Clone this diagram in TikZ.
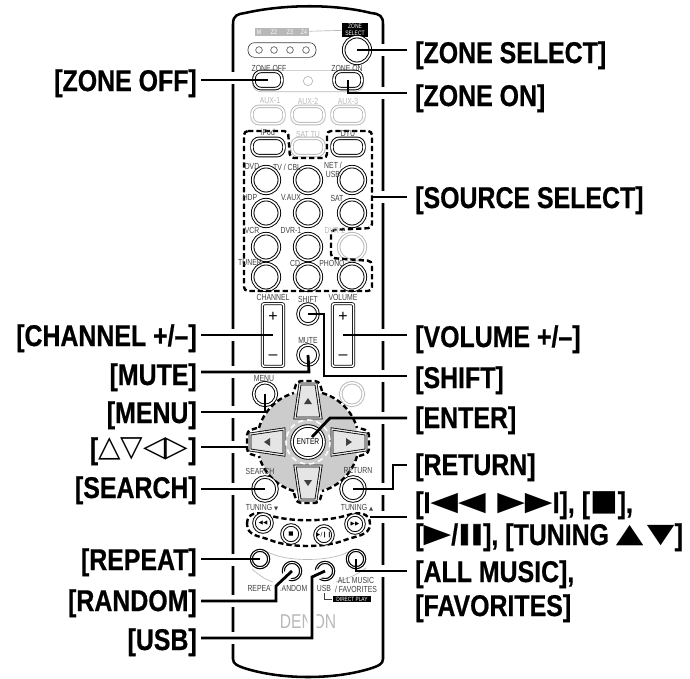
\documentclass[tikz,border=0pt]{standalone}
\usepackage{fontspec}
\usepackage{xcolor}
\setmainfont{Liberation Sans}
\newfontfamily\labelfont[FakeStretch=0.83,FakeBold=0.6]{Liberation Sans Bold}
\newfontfamily\barfont[FakeStretch=1.5,FakeBold=2.5]{Liberation Sans Bold}
\newfontfamily\capfont[FakeStretch=0.78]{Liberation Sans}
\newfontfamily\symfont{DejaVu Sans}
\newfontfamily\symwide[FakeStretch=1.35]{DejaVu Sans}
\newcommand{\lblsym}[1]{\raisebox{2pt}{\symwide\fontsize{20}{20}\selectfont #1}}
\newcommand{\lblopen}[1]{\raisebox{2pt}{\symfont\fontsize{22}{22}\selectfont #1}}
\definecolor{capgrey}{rgb}{0.25,0.25,0.25}
\definecolor{offgrey}{rgb}{0.72,0.72,0.72}
\definecolor{padgrey}{rgb}{0.80,0.80,0.80}
\definecolor{keygrey}{rgb}{0.90,0.90,0.90}
\tikzset{
  body/.style={line width=1.9pt},
  leader/.style={line width=2.1pt,line join=miter},
  halo/.style={white,line width=7pt},
  lblleft/.style={anchor=base east,inner xsep=3pt,inner ysep=0pt,font=\labelfont\fontsize{22.5}{24}\selectfont},
  lblright/.style={anchor=base west,inner xsep=6pt,inner ysep=0pt,font=\labelfont\fontsize{22.5}{24}\selectfont},
  smallcap/.style={inner sep=0pt,text=capgrey,font=\capfont\fontsize{6.6}{7}\selectfont,align=center},
  offcap/.style={smallcap,text=offgrey},
  ringbtn/.style={circle,draw=#1,fill=white,double=white,double distance=1.2pt,line width=0.7pt,inner sep=0pt},
  ringbtn/.default=black,
  pillbtn/.style={rectangle,rounded corners=5.5pt,draw=#1,fill=white,double=white,double distance=1.2pt,line width=0.7pt,inner sep=0pt,minimum width=24pt,minimum height=13pt},
  pillbtn/.default=black,
  rocker/.style={rectangle,rounded corners=1.5pt,draw,fill=white,double=white,double distance=1.2pt,line width=0.55pt,inner sep=0pt,minimum width=16pt,minimum height=47pt},
  dashbox/.style={line width=1.8pt,dash pattern=on 4pt off 2.2pt,rounded corners=3pt},
  thingrey/.style={draw=offgrey,line width=0.5pt},
  padkey/.style={draw,line width=0.6pt,fill=keygrey,double=keygrey,double distance=1pt}
}
\begin{document}
\begin{tikzpicture}[x=0.75pt,y=0.75pt,yscale=-1,xscale=1]
\useasboundingbox (0,0) rectangle (690,679);

%Remote body
\draw[body] (233,659) -- (233,24) .. controls (233,15) and (238,14) .. (245,13) .. controls (285,4) and (335,4) .. (371,13) .. controls (380,14) and (383,16) .. (383,24) -- (383,659) .. controls (383,664) and (378,666) .. (372,668) .. controls (335,680) and (281,680) .. (244,668) .. controls (238,666) and (233,664) .. (233,659);
%gaps in the edges where leaders pass
\foreach \y in {78,335,372,412,447,489,560,601,638}
  \fill[white] (228,\y-6) rectangle (238,\y+6);
\foreach \y in {50,93,197,335,376,418,489,517,571}
  \fill[white] (378,\y-6) rectangle (388,\y+6);

%Zone indicator bar
\node[fill=offgrey,minimum width=40.5pt,minimum height=6.5pt,inner sep=0pt] (zonebar) at (282,32) {};
\foreach \x/\t [count=\i] in {259/M,274/Z2,290/Z3,304/Z4}
  \node[smallcap,text=white,font=\capfont\fontsize{5}{5}\selectfont] (barcap\i) at (\x,32) {\t};
\node[fill=black,text=white,inner sep=0pt,minimum width=19pt,minimum height=10pt,align=center,font=\capfont\fontsize{4.8}{5}\selectfont] (zoneselcap) at (355,30) {ZONE\\SELECT};
\draw[thingrey] (zonebar) -- (zoneselcap);
\node[rectangle,rounded corners=5pt,thingrey,draw=capgrey,minimum width=51pt,minimum height=11pt,inner sep=0pt] (ledbox) at (282,50) {};
\foreach \x [count=\i] in {259,274,290,306}
  \node[circle,draw=capgrey,line width=0.4pt,minimum size=5pt,inner sep=0pt] (led\i) at (\x,50) {};
\node[ringbtn,minimum size=20pt] (btnzonesel) at (357,50) {};

%Zone row
\node[rectangle,rounded corners=6pt,thingrey,minimum width=83pt,minimum height=16pt,inner sep=0pt] (zonerow) at (308,81) {};
\node[pillbtn,minimum width=21pt] (btnzoneoff) at (268,80) {};
\node[pillbtn,minimum width=21pt] (btnzoneon) at (348,80) {};
\node[circle,thingrey,minimum size=7pt,inner sep=0pt] (zoneled) at (308,81) {};

%Pill buttons
\foreach \x/\n in {268/auxa,308/auxb,348/auxc}
  \node[pillbtn=offgrey] (btn\n) at (\x,115) {};
\node[pillbtn] (btnipod) at (268,147) {};
\node[pillbtn=offgrey] (btnsattu) at (308,147) {};
\node[pillbtn] (btndtu) at (348,147) {};

%Round source buttons
\foreach \n/\x/\y in {dvd/266/180,tv/308/180,net/352/180,hdp/266/213,vaux/308/213,sat/352/213,vcr/266/247,dvrb/308/247,tuner/266/277,cd/308/277,phono/352/277}
  \node[ringbtn,minimum size=20pt] (btn\n) at (\x,\y) {};
\node[ringbtn=offgrey,minimum size=20pt] (btndvrc) at (352,247) {};

%Dashed source group
\draw[dashbox] (244,131) -- (288,131) -- (290,158) -- (327,158) -- (327,131) -- (372,131) -- (372,228) -- (331,230) -- (331,258) -- (372,261) -- (372,291) -- (244,291) -- cycle;

%Volume, channel, shift, mute, menu
\node[rocker] (btnchannel) at (273,335) {};
\node[rocker] (btnvolume) at (343,335) {};
\node[ringbtn,minimum size=15pt] (btnshift) at (308,314) {};
\node[ringbtn,minimum size=15pt] (btnmute) at (308,355) {};
\node[ringbtn,minimum size=17pt] (btnmenu) at (265,394) {};
\node[ringbtn=offgrey,minimum size=17pt] (btnoption) at (352,394) {};
\foreach \x/\n in {273/c,343/v}{
  \node[inner sep=0pt,font=\fontsize{12}{12}\selectfont] (plus\n) at (\x,317) {+};
  \node[inner sep=0pt,font=\fontsize{12}{12}\selectfont] (minus\n) at (\x,357) {–};
}

%Cursor pad
\coordinate (padc) at (308,442);
\fill[padgrey] (padc) circle (50);
\foreach \a in {0,90,180,270}{
  \begin{scope}[rotate around={\a:(padc)},shift={(308,442)}]
    \draw[dashbox] (51,14) -- (61,11) -- (61,-11) -- (51,-14);
    \draw[dashbox,rounded corners=0pt] (16:51) arc[start angle=16,end angle=74,radius=51];
    \draw[padkey] (24,13) -- (58,8) -- (58,-8) -- (24,-13) -- cycle;
    \fill[capgrey] (38,-4) -- (38,4) -- (44,0) -- cycle;
  \end{scope}
}
\draw[white,line width=1.2pt,dash pattern=on 4pt off 3pt] (padc) circle (22);
\node[ringbtn,minimum size=24pt,align=center,font=\capfont\fontsize{6.4}{7}\selectfont] (btnenter) at (padc) {ENTER};

%Search, return
\node[ringbtn,minimum size=18pt] (btnsearch) at (265,489) {};
\node[ringbtn,minimum size=18pt] (btnreturn) at (353,489) {};

%Tuning group
\draw[dashbox,rounded corners=0pt] (247,524) .. controls (247,512) and (258,512) .. (268,515) .. controls (290,522) and (326,522) .. (348,515) .. controls (358,512) and (370,512) .. (370,524) .. controls (370,536) and (355,536) .. (345,540) .. controls (325,548) and (290,548) .. (270,540) .. controls (260,536) and (247,536) .. cycle;
\foreach \n/\x/\y/\t in {prev/263/523/{◀◀},stop/291/534/{■},play/324/535/{▶/❙❙},next/355/524/{▶▶}}
  \node[ringbtn,minimum size=13.5pt,text=black,font=\symfont\fontsize{4.2}{4}\selectfont] (btn\n) at (\x,\y) {\t};

%Bottom buttons
\draw[thingrey] (268,552) .. controls (285,562) and (330,562) .. (348,552);
\draw[thingrey] (252,569) .. controls (262,578) and (270,582) .. (281,584);
\draw[thingrey] (336,582) .. controls (350,578) and (358,574) .. (366,568);
\foreach \n/\x/\y in {repeat/260/559,random/292/571,usb/325/571,allmusic/356/559}
  \node[ringbtn,minimum size=13pt,double distance=0.6pt,line width=0.9pt] (btn\n) at (\x,\y) {};
\node[fill=black,text=white,inner sep=0pt,minimum width=29pt,minimum height=5pt,font=\capfont\fontsize{4.6}{5}\selectfont] (directplay) at (352,599) {DIRECT PLAY};
\draw[capgrey,line width=0.5pt] (324,593) -- (324,599) -- (directplay.west);
\node[inner sep=0pt,text=offgrey,font=\capfont\fontsize{15}{15}\selectfont] (denon) at (308,622) {DENON};

% Small captions
\foreach \x/\y/\t [count=\i] in {269/68/{ZONE OFF},347/68/{ZONE ON},268/132/iPod,348/134/DTU,252/166/DVD,287/167/{TV / CBL},333/170/{NET /\\USB},250/197/HDP,291/198/V.AUX,337/198/SAT,252/230/VCR,291/230/DVR-1,250/263/TUNER,295/263/CD,332/263/PHONO,273/297/CHANNEL,308/299/SHIFT,343/297/VOLUME,308/341/MUTE,264/379/MENU,260/471/SEARCH,358/471/RETURN,261/588/REPEAT,292/588/RANDOM,324/588/USB,356/585/{ALL MUSIC\\/ FAVORITES}}
  \node[smallcap] (capb\i) at (\x,\y) {\t};
\foreach \x/\y/\t [count=\i] in {270/101/AUX-1,308/101/AUX-2,348/101/AUX-3,308/134/{SAT TU},335/230/DVR-2}
  \node[offcap] (capc\i) at (\x,\y) {\t};
\node[smallcap] (captunedn) at (262,508) {TUNING {\symfont\fontsize{4}{4}\selectfont▼}};
\node[smallcap] (captuneup) at (357,508) {TUNING {\symfont\fontsize{4}{4}\selectfont▲}};

% Text Node
\node[lblright] (lblzonesel) at (407,63) {[ZONE SELECT]};
\node[lblright] (lblzoneon) at (407,106) {[ZONE ON]};
\node[lblright] (lblsource) at (407,208) {[SOURCE SELECT]};
\node[lblright] (lblvolume) at (407,347) {[VOLUME +/–]};
\node[lblright] (lblshift) at (407,388) {[SHIFT]};
\node[lblright] (lblenter) at (407,428) {[ENTER]};
\node[lblright] (lblreturn) at (407,475) {[RETURN]};
\node[lblright] (lbltuninga) at (407,513) {[I\lblsym{◀◀ ▶▶}I], [\lblopen{■}],};
\node[lblright] (lbltuningb) at (407,545) {[\lblsym{▶}/{\barfont II}], [TUNING \lblsym{▲}\hspace{2.5pt}\lblsym{▼}]};
\node[lblright] (lblallmusic) at (407,582) {[ALL MUSIC],};
\node[lblright] (lblfavorites) at (407,616) {[FAVORITES]};
\node[lblleft] (lblzoneoff) at (201,91) {[ZONE OFF]};
\node[lblleft] (lblchannel) at (201,346) {[CHANNEL +/–]};
\node[lblleft] (lblmute) at (201,385) {[MUTE]};
\node[lblleft] (lblmenu) at (201,423) {[MENU]};
\node[lblleft] (lblcursor) at (201,459) {[\lblopen{△▽◁▷}]};
\node[lblleft] (lblsearch) at (201,498) {[SEARCH]};
\node[lblleft] (lblrepeat) at (201,570) {[REPEAT]};
\node[lblleft] (lblrandom) at (201,611) {[RANDOM]};
\node[lblleft] (lblusb) at (201,650) {[USB]};

%Straight Lines
\draw[halo] (292,571) -- (276,586) -- (276,601);
\draw[halo] (325,571) -- (312,577) -- (312,638);
\draw[leader] (btnzonesel.center) -- (btnzonesel.center -| lblzonesel.west);
\draw[leader] (btnzoneon.center) -- (348,93) -- (lblzoneon.west |- 348,93);
\draw[leader] (btnzoneoff.center) -- (btnzoneoff.center -| lblzoneoff.east);
\draw[leader] (372,197) -- (lblsource.west |- 372,197);
\draw[leader] (btnvolume.center) -- (btnvolume.center -| lblvolume.west);
\draw[leader] (btnchannel.center) -- (btnchannel.center -| lblchannel.east);
\draw[leader] (btnshift.center) -- (324,314) -- (324,376) -- (lblshift.west |- 324,376);
\draw[leader] (btnmute.center) -- (309,372) -- (lblmute.east |- 309,372);
\draw[leader] (btnmenu.center) -- (265,412) -- (lblmenu.east |- 265,412);
\draw[leader] (248,447) -- (lblcursor.east |- 248,447);
\draw[leader] (312,437) -- (330,418) -- (lblenter.west |- 330,418);
\draw[leader] (btnsearch.center) -- (btnsearch.center -| lblsearch.east);
\draw[leader] (btnreturn.center) -- (393,489) -- (393,465) -- (lblreturn.west |- 393,465);
\draw[leader] (370,517) -- (lbltuninga.west |- 370,517);
\draw[leader] (btnrepeat.center) -- (btnrepeat.center -| lblrepeat.east);
\draw[leader] (btnallmusic.center) -- (356,571) -- (lblallmusic.west |- 356,571);
\draw[leader] (btnrandom.center) -- (276,586) -- (276,601) -- (lblrandom.east |- 276,601);
\draw[leader] (btnusb.center) -- (312,577) -- (312,638) -- (lblusb.east |- 312,638);

\end{tikzpicture}
\end{document}
